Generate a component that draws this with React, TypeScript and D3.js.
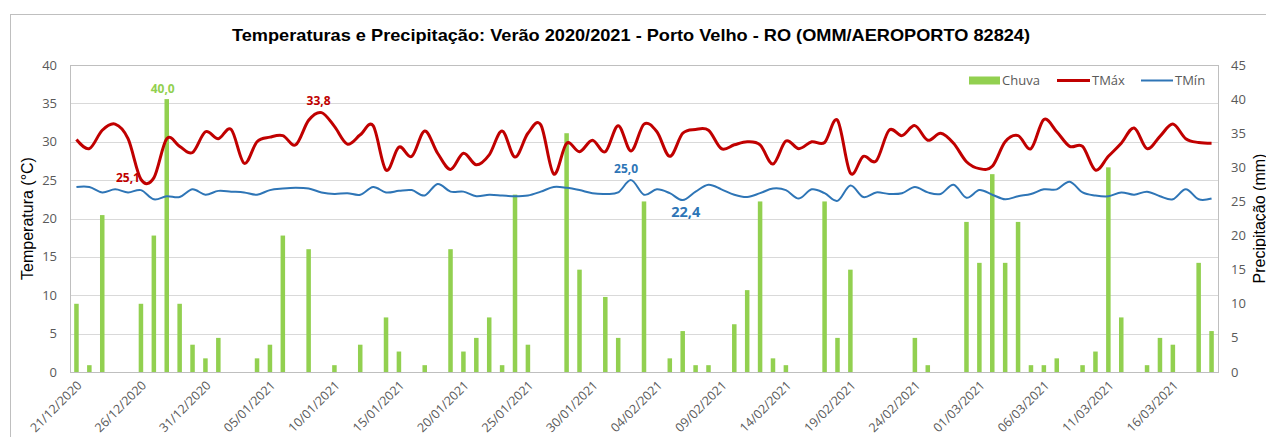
import React from 'react';
import * as d3 from 'd3';

// dias do verão 2020/2021 (21/12/2020 .. 19/03/2021)
const dias = d3.timeDay.range(new Date(2020, 11, 21), new Date(2021, 2, 20));
const categorias = dias.map(d3.timeFormat('%d/%m/%Y'));

// chuva diária (mm)
const chuva = [
  10, 1, 23, 0, 0, 10, 20, 40, 10, 4, 2, 5, 0, 0, 2, 4, 20, 0, 18, 0,
  1, 0, 4, 0, 8, 3, 0, 1, 0, 18, 3, 5, 8, 1, 26, 4, 0, 0, 35, 15,
  0, 11, 5, 0, 25, 0, 2, 6, 1, 1, 0, 7, 12, 25, 2, 1, 0, 0, 25, 5,
  15, 0, 0, 0, 0, 5, 1, 0, 0, 22, 16, 29, 16, 22, 1, 1, 2, 0, 1, 3,
  30, 8, 0, 1, 5, 4, 0, 16, 6,
];

// temperatura máxima (°C)
const tmax = [
  30.3, 29.1, 31.5, 32.3, 30.4, 25.1, 25.3, 30.4, 29.4, 28.6, 31.3, 30.4, 31.6, 27.2, 30.0, 30.6, 30.8, 29.6, 32.8, 33.8,
  32.0, 29.7, 30.9, 32.1, 26.3, 29.3, 28.1, 31.4, 28.5, 26.4, 28.5, 27.0, 28.3, 31.4, 28.0, 31.1, 32.2, 25.8, 29.8, 28.7,
  30.2, 28.7, 32.1, 28.8, 32.3, 31.3, 28.1, 31.1, 31.6, 31.5, 29.1, 29.6, 30.0, 29.6, 27.1, 30.1, 29.1, 30.0, 29.9, 32.8,
  25.9, 28.1, 27.5, 31.5, 30.8, 32.1, 30.2, 31.1, 29.8, 27.4, 26.5, 26.8, 30.0, 30.8, 29.1, 32.9, 31.3, 29.4, 29.4, 26.3,
  28.1, 29.8, 31.8, 29.1, 30.7, 32.3, 30.4, 29.9, 29.8,
];

// temperatura mínima (°C)
const tmin = [
  24.1, 24.1, 23.4, 23.8, 23.4, 23.7, 22.5, 22.9, 22.8, 23.8, 23.1, 23.6, 23.5, 23.4, 23.1, 23.7, 23.9, 24.0, 23.9, 23.4,
  23.2, 23.3, 23.1, 24.1, 23.4, 23.6, 23.7, 23.0, 24.5, 23.5, 23.5, 22.9, 23.1, 23.0, 22.9, 23.0, 23.5, 24.1, 24.0, 23.7,
  23.3, 23.2, 23.4, 25.0, 23.1, 23.8, 23.3, 22.4, 23.5, 24.4, 23.8, 23.1, 22.8, 23.3, 23.9, 23.7, 22.6, 23.8, 23.3, 22.3,
  24.3, 22.8, 23.4, 23.2, 23.3, 24.1, 23.4, 23.2, 24.4, 22.7, 23.7, 23.1, 22.5, 22.9, 23.2, 23.8, 23.8, 24.8, 23.4, 23.0,
  22.9, 23.4, 23.1, 23.5, 22.9, 22.5, 23.8, 22.5, 22.6,
];

const ticksTemp = [0, 5, 10, 15, 20, 25, 30, 35, 40];
const ticksChuva = [0, 5, 10, 15, 20, 25, 30, 35, 40, 45];
const rotulosX = categorias.filter((_, i) => i % 5 === 0);

const VERDE = '#92D050';
const VERMELHO = '#C00000';
const AZUL = '#2E75B6';
const CINZA = '#595959';
const fonte = '"Open Sans", sans-serif';
const fonteTitulo = '"Liberation Sans", Arial, sans-serif';

const W = 1266;
const H = 437;
const plot = { left: 70, right: 1218, top: 65, bottom: 372 };

export default function App() {
  const x = d3.scaleBand<string>()
    .domain(categorias)
    .range([plot.left, plot.right])
    .paddingInner(0.65)
    .paddingOuter(0.325);
  const cx = (i: number) => (x(categorias[i]) as number) + x.bandwidth() / 2;
  const yT = d3.scaleLinear().domain([0, 40]).range([plot.bottom, plot.top]);
  const yC = d3.scaleLinear().domain([0, 45]).range([plot.bottom, plot.top]);

  const linha = (vals: number[]) =>
    d3.line<number>()
      .x((_, i) => cx(i))
      .y(d => yT(d))
      .curve(d3.curveCardinal.tension(0))(vals) as string;

  return (
    <div style={{ position: 'absolute', left: 0, top: 0 }}>
      <svg width={W} height={H} style={{ display: 'block', background: '#fff' }}>
        <rect x={10.5} y={14.5} width={W + 10} height={H + 10} fill="#fff" stroke="#bfbfbf" />

        <text x={631} y={41} textAnchor="middle" fontFamily={fonteTitulo} fontWeight="bold" fontSize={16.5}
          fill="#000" textLength={798} lengthAdjust="spacingAndGlyphs">
          Temperaturas e Precipitação: Verão 2020/2021 - Porto Velho - RO (OMM/AEROPORTO 82824)
        </text>

        {/* grade */}
        {ticksTemp.map(t => (
          <line key={t} x1={plot.left} x2={plot.right} y1={Math.round(yT(t)) + 0.5} y2={Math.round(yT(t)) + 0.5}
            stroke="#d9d9d9" />
        ))}
        <rect x={plot.left + 0.5} y={plot.top + 0.5} width={plot.right - plot.left} height={plot.bottom - plot.top}
          fill="none" stroke="#bfbfbf" />

        {/* eixo esquerdo */}
        {ticksTemp.map(t => (
          <text key={t} x={57} y={yT(t)} dy="0.35em" textAnchor="end" fontFamily={fonte} fontSize={13} fill={CINZA}>
            {t}
          </text>
        ))}
        {/* eixo direito */}
        {ticksChuva.map(t => (
          <text key={t} x={1231} y={yC(t)} dy="0.35em" textAnchor="start" fontFamily={fonte} fontSize={13} fill={CINZA}>
            {t}
          </text>
        ))}
        {/* rótulos de datas */}
        {rotulosX.map(c => {
          const px = (x(c) as number) + x.bandwidth() / 2 + 3;
          return (
            <text key={c} transform={`translate(${px},383) rotate(-45)`} dy="0.35em" textAnchor="end"
              fontFamily={fonte} fontSize={12.5} fill={CINZA}>
              {c}
            </text>
          );
        })}

        <text transform={`translate(33,${(plot.top + plot.bottom) / 2}) rotate(-90)`} textAnchor="middle"
          fontFamily={fonteTitulo} fontSize={16} fill="#000">
          Temperatura (°C)
        </text>
        <text transform={`translate(1265,${(plot.top + plot.bottom) / 2}) rotate(-90)`} textAnchor="middle"
          fontFamily={fonteTitulo} fontSize={16} fill="#000">
          Precipitação (mm)
        </text>

        {/* barras de chuva */}
        {chuva.map((v, i) => v > 0 && (
          <rect key={i} x={x(categorias[i])} y={yC(v)} width={x.bandwidth()} height={yC(0) - yC(v)} fill={VERDE} />
        ))}

        {/* linhas */}
        <path d={linha(tmax)} fill="none" stroke={VERMELHO} strokeWidth={3} strokeLinejoin="round" />
        <path d={linha(tmin)} fill="none" stroke={AZUL} strokeWidth={2} strokeLinejoin="round" />

        {/* rótulos de destaque */}
        <text x={cx(7) - 4} y={yC(chuva[7]) - 6} textAnchor="middle" fontFamily={fonte} fontWeight="bold"
          fontSize={12} fill={VERDE}>40,0</text>
        <text x={cx(5) - 1} y={yT(tmax[5]) + 3} textAnchor="end" fontFamily={fonte} fontWeight="bold"
          fontSize={12} fill={VERMELHO}>25,1</text>
        <text x={cx(19) - 3} y={yT(tmax[19]) - 8} textAnchor="middle" fontFamily={fonte} fontWeight="bold"
          fontSize={12} fill={VERMELHO}>33,8</text>
        <text x={cx(43) - 5} y={yT(tmin[43]) - 7} textAnchor="middle" fontFamily={fonte} fontWeight="bold"
          fontSize={12} fill={AZUL}>25,0</text>
        <text x={cx(47) + 3} y={yT(tmin[47]) + 17} textAnchor="middle" fontFamily={fonte} fontWeight="bold"
          fontSize={14.5} fill={AZUL}>22,4</text>

        {/* legenda */}
        <rect x={969} y={76.5} width={31} height={8} fill={VERDE} />
        <text x={1002} y={80.5} dy="0.35em" fontFamily={fonte} fontSize={13} fill={CINZA}>Chuva</text>
        <line x1={1057} x2={1090} y1={80.5} y2={80.5} stroke={VERMELHO} strokeWidth={3} />
        <text x={1092} y={80.5} dy="0.35em" fontFamily={fonte} fontSize={13} fill={CINZA}>TMáx</text>
        <line x1={1141} x2={1173} y1={80.5} y2={80.5} stroke={AZUL} strokeWidth={2} />
        <text x={1175} y={80.5} dy="0.35em" fontFamily={fonte} fontSize={13} fill={CINZA}>TMín</text>
      </svg>
    </div>
  );
}
